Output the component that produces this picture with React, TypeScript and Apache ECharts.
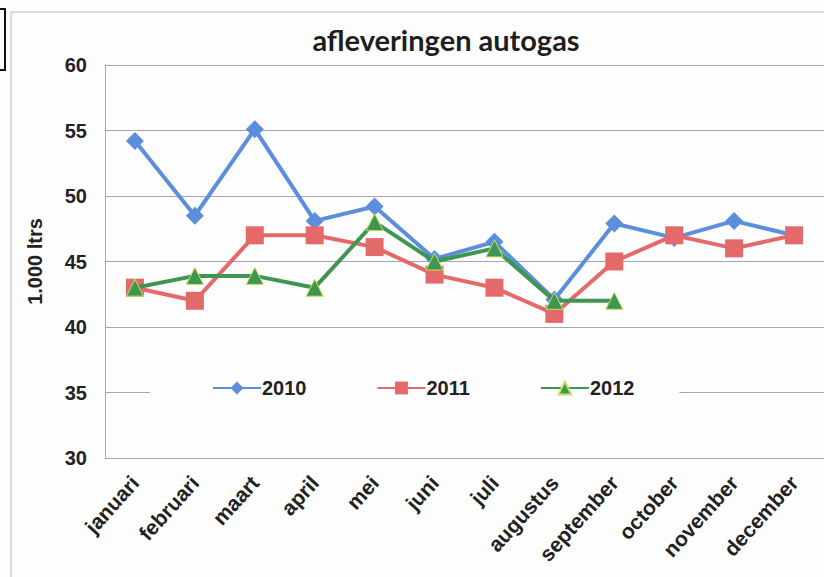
import React, { useEffect, useRef } from "react";
import * as echarts from "echarts";

const months = ["januari", "februari", "maart", "april", "mei", "juni", "juli", "augustus", "september", "october", "november", "december"];
const s2010 = [54.2, 48.5, 55.1, 48.1, 49.2, 45.2, 46.5, 42.1, 47.9, 46.8, 48.1, 47.0];
const s2011 = [43, 42, 47, 47, 46.1, 44, 43, 41, 45, 47, 46, 47];
const s2012 = [43, 43.9, 43.9, 43, 48, 45, 46, 42, 42];
const seriesNames = ["2010", "2011", "2012"];
const yTicks = { min: 30, max: 60, interval: 5 };

const BLUE = "#5b8fdc";
const RED = "#e46a6a";
const GREEN = "#3f9650";

export default function App() {
  const ref = useRef<HTMLDivElement>(null);
  useEffect(() => {
    const chart = echarts.init(ref.current!, null, { renderer: "svg" });
    const font = "Liberation Sans, Arial, sans-serif";
    chart.setOption({
      animation: false,
      backgroundColor: "#fdfdfd",
      title: {
        text: "afleveringen autogas",
        left: 441,
        textAlign: "center",
        top: 20,
        textStyle: { fontFamily: "Lato, Open Sans, sans-serif", fontWeight: "bold", fontSize: 29, color: "#1e1e1e" },
      },
      graphic: [
        { type: "line", shape: { x1: 11, y1: 12, x2: 11, y2: 577 }, style: { stroke: "#b8b8c8", lineWidth: 1 } },
        { type: "line", shape: { x1: 11, y1: 12, x2: 824, y2: 12 }, style: { stroke: "#b8b8c8", lineWidth: 1 } },
        { type: "rect", shape: { x: -10, y: 9, width: 15, height: 61 }, style: { fill: "none", stroke: "#111", lineWidth: 2 } },
      ],
      legend: {
        data: seriesNames,
        top: 375,
        left: 150,
        width: 545,
        padding: [3, 45, 3, 62],
        backgroundColor: "#fdfdfd",
        itemWidth: 48,
        itemHeight: 16,
        itemGap: 70,
        textStyle: { fontFamily: font, fontWeight: "bold", fontSize: 20, color: "#222", padding: [0, 0, 0, -4] },
      },
      grid: { left: 105, top: 65, right: -8, bottom: 119 },
      xAxis: {
        type: "category",
        data: months,
        boundaryGap: true,
        axisLine: { show: true, lineStyle: { color: "#a8a8bc", width: 1 } },
        axisTick: { show: false },
        axisLabel: {
          rotate: 48,
          interval: 0,
          margin: 21,
          fontFamily: font,
          fontWeight: "bold",
          fontSize: 21,
          color: "#222",
        },
      },
      yAxis: {
        type: "value",
        min: yTicks.min,
        max: yTicks.max,
        interval: yTicks.interval,
        name: "1.000 ltrs",
        nameLocation: "middle",
        nameRotate: 90,
        nameGap: 60,
        nameTextStyle: { fontFamily: font, fontWeight: "bold", fontSize: 20, color: "#222" },
        axisLine: { show: true, lineStyle: { color: "#a8a8bc", width: 1 } },
        axisTick: { show: false },
        splitLine: { show: true, lineStyle: { color: "#a4a4b8", width: 1 } },
        axisLabel: { fontFamily: font, fontWeight: "bold", fontSize: 20, color: "#222", margin: 18 },
      },
      series: [
        {
          name: "2010",
          type: "line",
          data: s2010,
          symbol: "diamond",
          symbolSize: 18,
          lineStyle: { color: BLUE, width: 4 },
          itemStyle: { color: BLUE },
          z: 3,
        },
        {
          name: "2011",
          type: "line",
          data: s2011,
          symbol: "rect",
          symbolSize: 18,
          lineStyle: { color: RED, width: 4 },
          itemStyle: { color: RED },
          z: 4,
        },
        {
          name: "2012",
          type: "line",
          data: s2012,
          symbol: "triangle",
          symbolSize: 17,
          lineStyle: { color: GREEN, width: 4 },
          itemStyle: { color: GREEN, borderColor: "#c8e060", borderWidth: 1 },
          z: 5,
        },
      ],
    });
    return () => chart.dispose();
  }, []);
  return <div ref={ref} style={{ position: "fixed", left: 0, top: 0, width: 824, height: 577 }} />;
}
